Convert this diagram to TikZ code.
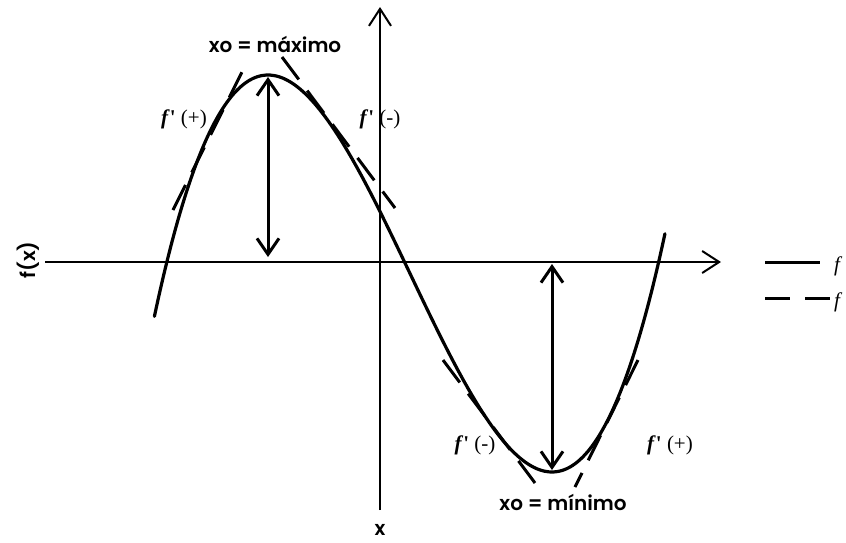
\documentclass[tikz,border=0pt]{standalone}
\usepackage{fontspec}
\setmainfont{Liberation Serif}
\newfontfamily\labelfont{Poppins}[UprightFont=* SemiBold]
\usetikzlibrary{arrows.meta}

\begin{document}
\begin{tikzpicture}[x=1pt, y=-1pt,
    axis/.style={line width=2pt, -{Straight Barb[length=17pt, width=22pt, line width=2pt]}},
    marker/.style={line width=3pt, {Straight Barb[length=16pt, width=22pt, line width=3pt]}-{Straight Barb[length=16pt, width=22pt, line width=3pt]}},
    curve/.style={line width=3.2pt, line cap=round},
    tangent/.style={line width=3pt, dash pattern=on 28pt off 14pt},
    title/.style={font=\labelfont\fontsize{20}{24}\selectfont, inner sep=0pt},
    slope/.style={font=\fontsize{21}{25}\selectfont, inner sep=0pt}]

	\clip (0,0) rectangle (846,542);

	% Curve parameters (pixels)
	\def\xc{410}
	\def\yc{273.5}
	\def\hw{142}

	% Key points
	\coordinate (xl) at (45,262);
	\coordinate (xr) at (721,262);
	\coordinate (yb) at (380,510);
	\coordinate (yt) at (380,7);
	\coordinate (max) at (268,77);
	\coordinate (maxbase) at (268,257);
	\coordinate (min) at (552,470);
	\coordinate (minbase) at (552,264);

	% Axes
	\draw[axis] (xl) -- (xr);
	\draw[axis] (yb) -- (yt);

	% Function
	\draw[curve] plot[domain=-1.80:1.796, samples=120, smooth]
		({\xc + \hw*\x}, {\yc + 297.75*\x - 99.25*\x*\x*\x});

	% Tangent lines
	\coordinate (ta1) at (173,210); \coordinate (ta2) at (242,72);
	\coordinate (tb1) at (282,57);  \coordinate (tb2) at (395,208);
	\coordinate (tc1) at (443,360); \coordinate (tc2) at (535,483);
	\coordinate (td1) at (575,487); \coordinate (td2) at (638,360);
	\draw[tangent] (ta1) -- (ta2);
	\draw[tangent] (tb1) -- (tb2);
	\draw[tangent] (tc1) -- (tc2);
	\draw[tangent] (td2) -- (td1);

	% Extremum markers
	\draw[marker] (max) -- (maxbase);
	\draw[marker] (minbase) -- (min);

	% Labels
	\node[title] (lmax) at (275,44) {xo = máximo};
	\node[title] (lmin) at (563,502) {xo = mínimo};
	\node[title] (lx) at (380,530) {x};
	\node[title, rotate=90] (lfx) at (28,260) {f(x)};

	\node[slope] (s1) at (184,119) {\textbf{\textit{f}\textquotesingle} (+)};
	\node[slope] (s2) at (380,119) {\textbf{\textit{f}\textquotesingle} (-)};
	\node[slope] (s3) at (475,445) {\textbf{\textit{f}\textquotesingle} (-)};
	\node[slope] (s4) at (670,445) {\textbf{\textit{f}\textquotesingle} (+)};

	% Legend
	\coordinate (la1) at (765,262); \coordinate (la2) at (820,262);
	\coordinate (lb1) at (765,298); \coordinate (lb2) at (832,298);
	\draw[line width=3pt] (la1) -- (la2);
	\draw[line width=3pt, dash pattern=on 25pt off 15pt] (lb1) -- (lb2);
	\node[slope, anchor=west] (lega) at (834,266) {\textit{f}};
	\node[slope, anchor=west] (legb) at (834,302) {\textit{f}};

\end{tikzpicture}
\end{document}
